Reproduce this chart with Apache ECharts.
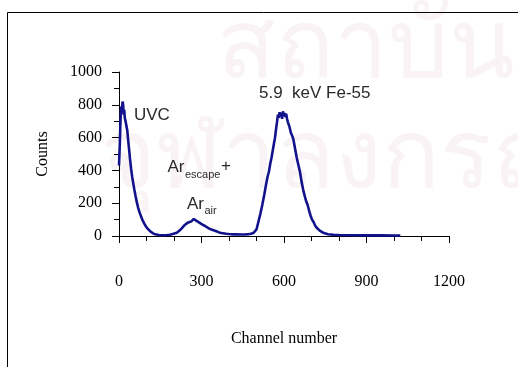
<!DOCTYPE html>
<html>
<head>
<meta charset="utf-8">
<script src="https://cdn.jsdelivr.net/npm/echarts@6/dist/echarts.min.js"></script>
<style>
  html, body { margin: 0; padding: 0; background: #ffffff; }
  #chart { width: 518px; height: 367px; }
</style>
</head>
<body>
<div id="chart"></div>
<script>
// Pulse-height spectrum: channel number vs counts
const channels = [
  0, 3, 5, 7, 9, 11, 13, 15, 17, 19, 21, 24, 27, 30, 33, 36, 40, 44, 48, 52,
  56, 60, 65, 70, 74, 80, 86, 92, 98, 104, 110, 116, 122, 128, 135, 145, 155, 165, 175, 185,
  195, 200, 210, 220, 228, 236, 244, 252, 258, 262, 266, 269, 272, 275, 278, 282, 287, 292, 298, 305,
  313, 320, 328, 336, 342, 349, 356, 364, 372, 379, 390, 400, 415, 430, 445, 460, 470, 480, 490, 495,
  500, 507, 514, 521, 528, 535, 540, 545, 550, 555, 560, 563, 567, 571, 575, 578, 581, 584, 587, 590,
  593, 596, 599, 602, 605, 608, 611, 615, 620, 625, 630, 634, 640, 646, 652, 658, 664, 670, 676, 681,
  686, 692, 697, 702, 707, 712, 718, 724, 730, 737, 745, 752, 760, 770, 780, 800, 830, 860, 900, 950,
  1000, 1023
];
const counts = [
  430, 560, 680, 760, 790, 770, 820, 800, 740, 770, 720, 700, 670, 645, 590, 540, 470, 410, 360, 320,
  280, 245, 205, 170, 148, 120, 95, 75, 58, 45, 34, 25, 18, 12, 8, 6, 5, 5, 6, 8,
  12, 12, 20, 33, 47, 62, 74, 83, 92, 88, 100, 94, 104, 96, 101, 92, 88, 82, 76, 68,
  61, 52, 45, 40, 36, 32, 26, 22, 18, 16, 14, 12, 10, 10, 9, 10, 11, 14, 20, 26,
  40, 87, 135, 189, 250, 315, 360, 392, 440, 480, 530, 560, 596, 650, 700, 740, 720, 755, 730, 750,
  715, 760, 735, 750, 725, 745, 715, 690, 665, 630, 610, 590, 535, 480, 435, 392, 330, 280, 240, 210,
  189, 150, 122, 100, 87, 68, 52, 42, 33, 26, 18, 14, 11, 9, 7, 6, 5, 5, 4, 4,
  3, 3
];
const xTicks = [0, 300, 600, 900, 1200];
const yTicks = [0, 200, 400, 600, 800, 1000];

const spectrum = channels.map((c, i) => [c, counts[i]]);

const chart = echarts.init(document.getElementById('chart'), null, { renderer: 'canvas' });

const serif = '"Liberation Serif", "Times New Roman", serif';
const sans = '"Liberation Sans", Arial, sans-serif';
const textColor = '#2a2a2a';

chart.setOption({
  animation: false,
  backgroundColor: '#ffffff',
  grid: { left: 119, right: 69, top: 72, bottom: 131, containLabel: false },
  xAxis: {
    type: 'value',
    min: xTicks[0],
    max: xTicks[xTicks.length - 1],
    interval: 300,
    name: 'Channel number',
    nameLocation: 'middle',
    nameGap: 95,
    nameTextStyle: { fontFamily: serif, fontSize: 16, color: '#000' },
    axisLine: { show: true, onZero: false, lineStyle: { color: '#000', width: 1 } },
    axisTick: { show: true, length: 7, lineStyle: { color: '#000', width: 1 } },
    minorTick: { show: true, splitNumber: 3, length: 5, lineStyle: { color: '#000', width: 1 } },
    axisLabel: { margin: 38, fontFamily: serif, fontSize: 16, color: '#000',
      formatter: v => String(v) },
    splitLine: { show: false }
  },
  yAxis: {
    type: 'value',
    min: yTicks[0],
    max: yTicks[yTicks.length - 1],
    interval: 200,
    name: 'Counts',
    nameLocation: 'middle',
    nameGap: 68,
    nameRotate: 90,
    nameTextStyle: { fontFamily: serif, fontSize: 16, color: '#000' },
    axisLine: { show: true, onZero: false, lineStyle: { color: '#000', width: 1 } },
    axisTick: { show: true, length: 7, lineStyle: { color: '#000', width: 1 } },
    minorTick: { show: true, splitNumber: 2, length: 5, lineStyle: { color: '#000', width: 1 } },
    axisLabel: { margin: 17, fontFamily: serif, fontSize: 16, color: '#000',
      formatter: v => String(v) },
    splitLine: { show: false }
  },
  series: [{
    type: 'line',
    data: spectrum,
    showSymbol: false,
    smooth: false,
    lineStyle: { color: '#12128c', width: 2.6 },
    z: 3
  }],
  graphic: [
    // faint background watermark
    { type: 'text', left: 217, top: 2, z: -10, silent: true,
      style: { text: 'สถาบันวิทยบริการ', font: '96px "Noto Sans", sans-serif', fill: '#faf3f6' } },
    { type: 'text', left: 100, top: 112, z: -10, silent: true,
      style: { text: 'จุฬาลงกรณ์มหาวิทยาลัย', font: '96px "Noto Sans", sans-serif', fill: '#faf3f6' } },
    // frame
    { type: 'rect', z: 100, silent: true,
      shape: { x: 7.5, y: 12.5, width: 600, height: 400 },
      style: { fill: 'none', stroke: '#000', lineWidth: 1 } },
    // peak annotations
    { type: 'text', x: 134, y: 115, z: 50,
      style: { text: 'UVC', font: '17px ' + sans, fill: textColor, textVerticalAlign: 'middle' } },
    { type: 'text', x: 259, y: 93, z: 50,
      style: { text: '5.9  keV Fe-55', font: '17px ' + sans, fill: textColor, textVerticalAlign: 'middle' } },
    { type: 'text', x: 167.5, y: 167, z: 50,
      style: { text: 'Ar', font: '17px ' + sans, fill: textColor, textVerticalAlign: 'middle' } },
    { type: 'text', x: 185, y: 175, z: 50,
      style: { text: 'escape', font: '11px ' + sans, fill: textColor, textVerticalAlign: 'middle' } },
    { type: 'text', x: 221, y: 166, z: 50,
      style: { text: '+', font: '17px ' + sans, fill: textColor, textVerticalAlign: 'middle' } },
    { type: 'text', x: 187, y: 204, z: 50,
      style: { text: 'Ar', font: '17px ' + sans, fill: textColor, textVerticalAlign: 'middle' } },
    { type: 'text', x: 204.5, y: 211, z: 50,
      style: { text: 'air', font: '11px ' + sans, fill: textColor, textVerticalAlign: 'middle' } }
  ]
});
</script>
</body>
</html>
